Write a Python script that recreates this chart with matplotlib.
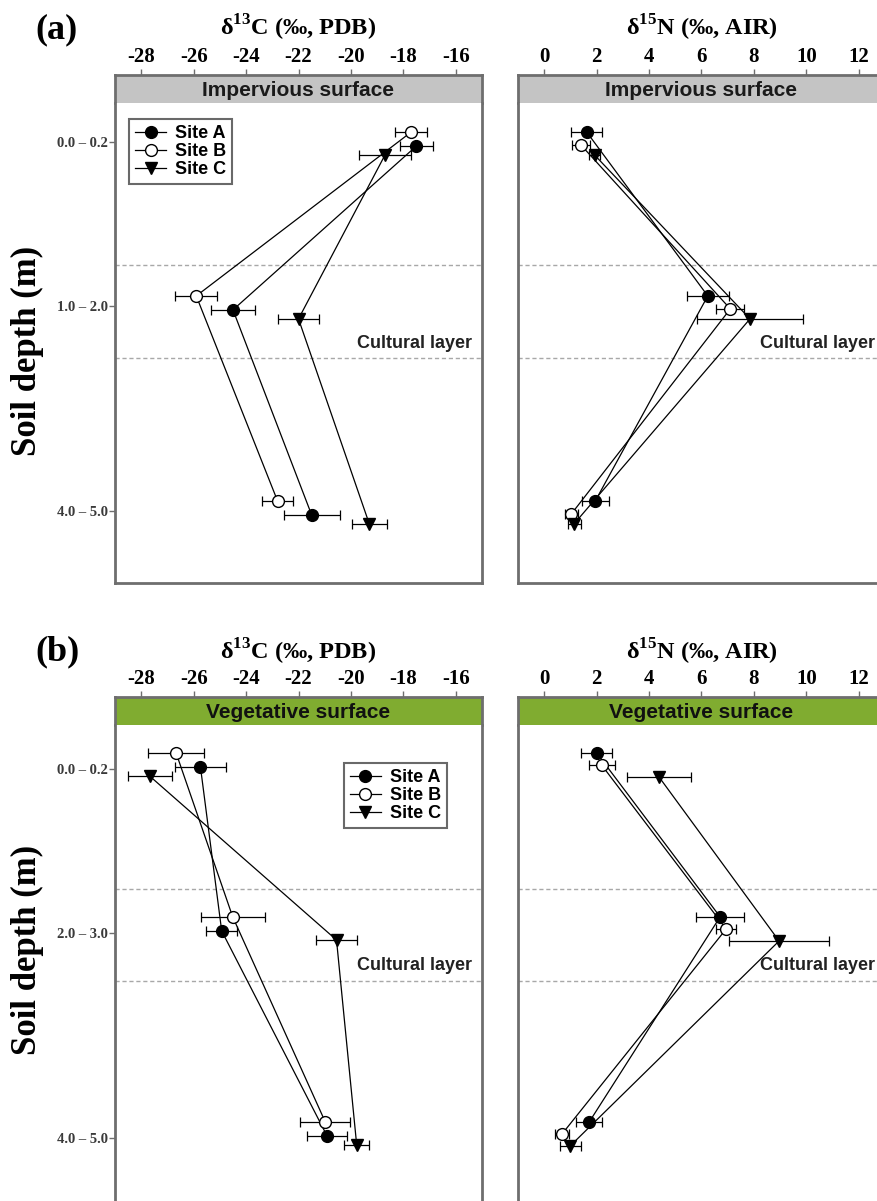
import matplotlib.pyplot as plt
from matplotlib.lines import Line2D

plt.rcParams['mathtext.fontset'] = 'custom'
plt.rcParams['mathtext.rm'] = 'Liberation Serif:bold'
plt.rcParams['mathtext.bf'] = 'Liberation Serif:bold'

# ---- data ----
sites = ['Site A', 'Site B', 'Site C']
depth_imp = ['0.0 – 0.2', '1.0 – 2.0', '4.0 – 5.0']
depth_veg = ['0.0 – 0.2', '2.0 – 3.0', '4.0 – 5.0']

# (a) impervious surface, d13C
c13_imp_A = [-17.5, -24.5, -21.5]
c13_imp_B = [-17.7, -25.9, -22.8]
c13_imp_C = [-18.7, -22.0, -19.3]
c13_imp_A_sd = [0.64, 0.85, 1.07]
c13_imp_B_sd = [0.60, 0.81, 0.58]
c13_imp_C_sd = [1.00, 0.77, 0.67]

# (a) impervious surface, d15N
n15_imp_A = [1.62, 6.24, 1.95]
n15_imp_B = [1.40, 7.10, 1.04]
n15_imp_C = [1.92, 7.85, 1.14]
n15_imp_A_sd = [0.58, 0.79, 0.52]
n15_imp_B_sd = [0.35, 0.53, 0.25]
n15_imp_C_sd = [0.20, 2.04, 0.25]

# (b) vegetative surface, d13C
c13_veg_A = [-25.74, -24.93, -20.91]
c13_veg_B = [-26.67, -24.51, -20.98]
c13_veg_C = [-27.68, -20.55, -19.78]
c13_veg_A_sd = [0.98, 0.59, 0.77]
c13_veg_B_sd = [1.07, 1.22, 0.95]
c13_veg_C_sd = [0.84, 0.78, 0.48]

# (b) vegetative surface, d15N
n15_veg_A = [2.00, 6.71, 1.72]
n15_veg_B = [2.19, 6.94, 0.68]
n15_veg_C = [4.38, 8.96, 0.99]
n15_veg_A_sd = [0.60, 0.92, 0.50]
n15_veg_B_sd = [0.50, 0.38, 0.25]
n15_veg_C_sd = [1.22, 1.90, 0.40]

# ---- layout ----
W, H = 878, 1201
depth_pos = [0, 1, 2.25]
markers = {'Site A': ('o', 'black'), 'Site B': ('o', 'white'), 'Site C': ('v', 'black')}
frame_col = '#6e6e6e'

fig = plt.figure(figsize=(W / 100, H / 100), dpi=100)


def px_axes(x0, y0, w, h):
    return fig.add_axes([x0 / W, 1 - (y0 + h) / H, w / W, h / H])


def panel(x0, top, means, sds, xlim, xticks, strip_txt, strip_col, txt_col,
          depths, ylim, dodge, bounds, show_y=True, legend_anchor=None,
          legend_loc=None):
    strip = px_axes(x0, top, 367, 28)
    ax = px_axes(x0, top + 28, 367, 480)

    strip.set_facecolor(strip_col)
    strip.set_xlim(xlim)
    strip.set_ylim(0, 1)
    strip.set_yticks([])
    strip.set_xticks(xticks)
    strip.set_xticklabels([str(t) for t in xticks], fontsize=15,
                          family='Liberation Serif', fontweight='bold')
    strip.xaxis.tick_top()
    strip.tick_params(axis='x', length=4, width=1, color=frame_col, pad=2)
    strip.text(0.5, 0.45, strip_txt, transform=strip.transAxes, ha='center',
               va='center', fontsize=15, fontweight='bold',
               family='Liberation Sans', color=txt_col)
    for s in ['top', 'left', 'right']:
        strip.spines[s].set_color(frame_col)
        strip.spines[s].set_linewidth(2)
    strip.spines['bottom'].set_visible(False)

    for s in ['bottom', 'left', 'right']:
        ax.spines[s].set_color(frame_col)
        ax.spines[s].set_linewidth(2)
    ax.spines['top'].set_visible(False)

    for b in bounds:
        ax.axhline(b, color='#a8a8a8', lw=1, ls=(0, (3, 2)), zorder=1)

    for site, m, sd in zip(sites, means, sds):
        mk, fc = markers[site]
        y = [p + dodge[site] for p in depth_pos]
        ax.errorbar(m, y, xerr=sd, fmt='-', marker=mk, color='black',
                    mfc=fc, mec='black', ms=8.5, lw=0.9, elinewidth=0.9,
                    capsize=3.5, capthick=0.9, zorder=3)

    ax.text(0.973, 0.5, 'Cultural layer', transform=ax.transAxes, ha='right',
            va='center', fontsize=13, fontweight='bold',
            family='Liberation Sans', color='#222222')

    ax.set_xlim(xlim)
    ax.set_xticks([])
    ax.set_ylim(ylim)
    if show_y:
        ax.set_yticks(depth_pos)
        ax.set_yticklabels(depths, fontsize=10.5, family='Liberation Serif',
                           fontweight='bold', color='#3a3a3a')
        ax.tick_params(axis='y', length=4, width=1, color=frame_col, pad=1)
    else:
        ax.set_yticks([])

    if legend_anchor is not None:
        handles = [Line2D([], [], color='black', lw=0.9, marker=markers[s][0],
                          mfc=markers[s][1], mec='black', ms=8.5) for s in sites]
        leg = ax.legend(handles, sites, loc=legend_loc,
                        bbox_to_anchor=legend_anchor, fancybox=False,
                        handlelength=1.7, handletextpad=0.5, labelspacing=0.05,
                        borderpad=0.35, borderaxespad=0,
                        prop={'family': 'Liberation Sans', 'weight': 'bold',
                              'size': 13})
        leg.get_frame().set_edgecolor('#444444')
        leg.get_frame().set_linewidth(1.5)
    return ax


serif_bold = dict(family='Liberation Serif', fontweight='bold')

# panel (a)
ylim_a = (2.69, -0.238)
bounds_a = [0.75, 1.317]
panel(115, 75, [c13_imp_A, c13_imp_B, c13_imp_C],
      [c13_imp_A_sd, c13_imp_B_sd, c13_imp_C_sd], (-29, -15),
      [-28, -26, -24, -22, -20, -18, -16], 'Impervious surface', '#c4c4c4',
      '#1a1a1a', depth_imp, ylim_a,
      {'Site A': 0.024, 'Site B': -0.061, 'Site C': 0.079}, bounds_a,
      legend_anchor=(0.038, 0.967), legend_loc='upper left')
panel(518, 75, [n15_imp_A, n15_imp_B, n15_imp_C],
      [n15_imp_A_sd, n15_imp_B_sd, n15_imp_C_sd], (-1, 13),
      [0, 2, 4, 6, 8, 10, 12], 'Impervious surface', '#c4c4c4',
      '#1a1a1a', depth_imp, ylim_a,
      {'Site A': -0.061, 'Site B': 0.018, 'Site C': 0.079}, bounds_a,
      show_y=False)

# panel (b)
ylim_b = (2.659, -0.268)
bounds_b = [0.73, 1.293]
panel(115, 697, [c13_veg_A, c13_veg_B, c13_veg_C],
      [c13_veg_A_sd, c13_veg_B_sd, c13_veg_C_sd], (-29, -15),
      [-28, -26, -24, -22, -20, -18, -16], 'Vegetative surface', '#80ac30',
      '#111111', depth_veg, ylim_b,
      {'Site A': -0.012, 'Site B': -0.098, 'Site C': 0.043}, bounds_b,
      legend_anchor=(0.905, 0.921), legend_loc='upper right')
panel(518, 697, [n15_veg_A, n15_veg_B, n15_veg_C],
      [n15_veg_A_sd, n15_veg_B_sd, n15_veg_C_sd], (-1, 13),
      [0, 2, 4, 6, 8, 10, 12], 'Vegetative surface', '#80ac30',
      '#111111', depth_veg, ylim_b,
      {'Site A': -0.098, 'Site B': -0.024, 'Site C': 0.049}, bounds_b,
      show_y=False)

# titles / labels
for y_lab, y_ttl, y_ylab, tag in [(30, 28, 351, '(a)'), (652, 652, 950, '(b)')]:
    fig.text(35 / W, 1 - y_lab / H, tag, ha='left', va='center', fontsize=26,
             **serif_bold)
    fig.text(298.5 / W, 1 - y_ttl / H, r'δ$^{13}$C (‰, PDB)', ha='center',
             va='center', fontsize=17.5, **serif_bold)
    fig.text(701.5 / W, 1 - y_ttl / H, r'δ$^{15}$N (‰, AIR)', ha='center',
             va='center', fontsize=17.5, **serif_bold)
    fig.text(27 / W, 1 - y_ylab / H, 'Soil depth (m)', rotation=90,
             ha='center', va='center', fontsize=25, **serif_bold)

fig.savefig('out.png', dpi=100)
